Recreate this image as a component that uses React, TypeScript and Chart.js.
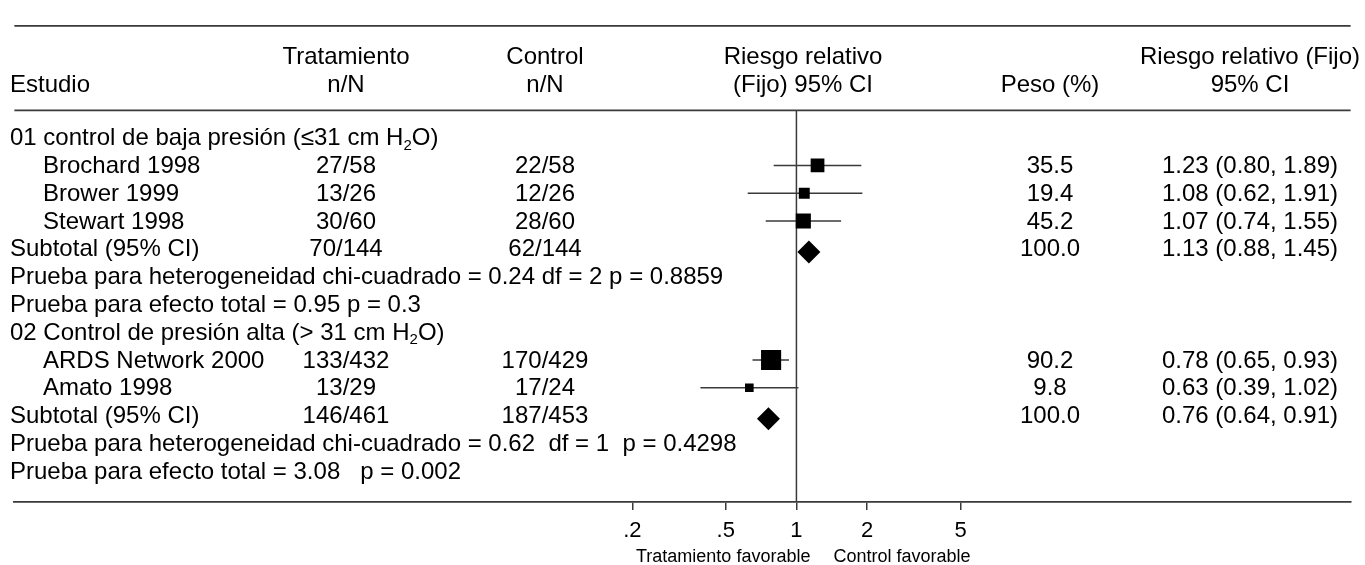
import React, { useEffect, useRef } from "react";
import { Chart, registerables } from "chart.js";

Chart.register(...registerables);

// ---------- data ----------
const groupTitles = [
  ["01 control de baja presión (≤31 cm H", "2", "O)"],
  ["02 Control de presión alta (> 31 cm H", "2", "O)"],
];
const studyNames = ["Brochard 1998", "Brower 1999", "Stewart 1998", "ARDS Network 2000", "Amato 1998"];
const studyGroup = [0, 0, 0, 1, 1];
const treatmentCounts = ["27/58", "13/26", "30/60", "133/432", "13/29"];
const controlCounts = ["22/58", "12/26", "28/60", "170/429", "17/24"];
const studyWeights = [35.5, 19.4, 45.2, 90.2, 9.8];
const studyRR = [1.23, 1.08, 1.07, 0.78, 0.63];
const studyLow = [0.8, 0.62, 0.74, 0.65, 0.39];
const studyHigh = [1.89, 1.91, 1.55, 0.93, 1.02];
const subtotalTreatment = ["70/144", "146/461"];
const subtotalControl = ["62/144", "187/453"];
const subtotalWeights = [100.0, 100.0];
const subtotalRR = [1.13, 0.76];
const subtotalLow = [0.88, 0.64];
const subtotalHigh = [1.45, 0.91];
const heterogeneityTexts = [
  "Prueba para heterogeneidad chi-cuadrado = 0.24 df = 2 p = 0.8859",
  "Prueba para heterogeneidad chi-cuadrado = 0.62  df = 1  p = 0.4298",
];
const overallEffectTexts = [
  "Prueba para efecto total = 0.95 p = 0.3",
  "Prueba para efecto total = 3.08   p = 0.002",
];
const xTickValues = [0.2, 0.5, 1, 2, 5];
const xTickLabels = [".2", ".5", "1", "2", "5"];
const headerLine1 = ["", "Tratamiento", "Control", "Riesgo relativo", "", "Riesgo relativo (Fijo)"];
const headerLine2 = ["Estudio", "n/N", "n/N", "(Fijo) 95% CI", "Peso (%)", "95% CI"];
const favourLabels = ["Tratamiento favorable", "Control favorable"];

// ---------- layout / style ----------
const W = 1365;
const H = 565;
const FONT = "'Liberation Sans', Arial, Helvetica, sans-serif";
const LEFT = 10;
const ONE_PX = 803;
const PX_PER_DECADE = 238;
const X_MIN = Math.pow(10, -(ONE_PX - LEFT) / PX_PER_DECADE);
const X_MAX = Math.pow(10, (W - ONE_PX) / PX_PER_DECADE);
const AXIS_H = 63;
const ROW_H = 28.6;
const FIRST_ROW_PX = 127;
const pxToRow = (px: number) => (px - FIRST_ROW_PX) / ROW_H;
const Y_MIN = pxToRow(0);
const Y_MAX = pxToRow(H - AXIS_H);
const TOP_LINE = pxToRow(12);
const HEAD1 = pxToRow(43);
const HEAD2 = pxToRow(72);
const HEADER_LINE = pxToRow(99);
const COL_X = [10, 346, 545, 803, 1050, 1250];
const INDENT_X = 43;
const LINE_COLOR = "#3a3a3a";

type Row = { kind: string; g: number; i: number };
const rows: Row[] = [];
const studyRow: number[] = [];
const subtotalRow: number[] = [];
groupTitles.forEach((_, g) => {
  rows.push({ kind: "group", g, i: -1 });
  studyNames.forEach((_, i) => {
    if (studyGroup[i] === g) {
      studyRow[i] = rows.length;
      rows.push({ kind: "study", g, i });
    }
  });
  subtotalRow[g] = rows.length;
  rows.push({ kind: "subtotal", g, i: -1 });
  rows.push({ kind: "het", g, i: -1 });
  rows.push({ kind: "effect", g, i: -1 });
});

const fmtCI = (m: number, l: number, h: number) => `${m.toFixed(2)} (${l.toFixed(2)}, ${h.toFixed(2)})`;

const tablePlugin = {
  id: "forestTable",
  afterDraw(chart: any) {
    const ctx = chart.ctx as CanvasRenderingContext2D;
    const ys = chart.scales.y;
    const xs = chart.scales.x;
    ctx.save();
    ctx.fillStyle = "#000";
    ctx.textBaseline = "middle";
    const put = (s: string, px: number, py: number, align: CanvasTextAlign, size = 24) => {
      ctx.font = `${size}px ${FONT}`;
      ctx.textAlign = align;
      ctx.fillText(s, px, py);
    };
    const alignOf = (c: number): CanvasTextAlign => (c === 0 ? "left" : "center");
    headerLine1.forEach((s, c) => s && put(s, COL_X[c], ys.getPixelForValue(HEAD1) + 1, alignOf(c)));
    headerLine2.forEach((s, c) => s && put(s, COL_X[c], ys.getPixelForValue(HEAD2) + 1, alignOf(c)));

    rows.forEach((r, idx) => {
      const py = ys.getPixelForValue(idx) + 1;
      if (r.kind === "group") {
        const [a, sub, b] = groupTitles[r.g];
        put(a, LEFT, py, "left");
        ctx.font = `24px ${FONT}`;
        const wa = ctx.measureText(a).width;
        put(sub, LEFT + wa, py + 7, "left", 15);
        ctx.font = `15px ${FONT}`;
        const ws = ctx.measureText(sub).width;
        put(b, LEFT + wa + ws, py, "left");
      } else if (r.kind === "study") {
        const i = r.i;
        put(studyNames[i], INDENT_X, py, "left");
        put(treatmentCounts[i], COL_X[1], py, "center");
        put(controlCounts[i], COL_X[2], py, "center");
        put(studyWeights[i].toFixed(1), COL_X[4], py, "center");
        put(fmtCI(studyRR[i], studyLow[i], studyHigh[i]), COL_X[5], py, "center");
      } else if (r.kind === "subtotal") {
        const g = r.g;
        put("Subtotal (95% CI)", LEFT, py, "left");
        put(subtotalTreatment[g], COL_X[1], py, "center");
        put(subtotalControl[g], COL_X[2], py, "center");
        put(subtotalWeights[g].toFixed(1), COL_X[4], py, "center");
        put(fmtCI(subtotalRR[g], subtotalLow[g], subtotalHigh[g]), COL_X[5], py, "center");
      } else if (r.kind === "het") {
        put(heterogeneityTexts[r.g], LEFT, py, "left");
      } else {
        put(overallEffectTexts[r.g], LEFT, py, "left");
      }
    });

    const onePx = xs.getPixelForValue(1);
    put(favourLabels[0], onePx + 14, 557, "right", 18);
    put(favourLabels[1], onePx + 37, 557, "left", 18);
    ctx.restore();
  },
};

export default function App() {
  const ref = useRef<HTMLCanvasElement | null>(null);
  useEffect(() => {
    if (!ref.current) return;
    const lineDs = (data: { x: number; y: number }[], width = 1.5) => ({
      type: "line" as const,
      data,
      borderColor: LINE_COLOR,
      borderWidth: width,
      pointRadius: 0,
      fill: false,
      tension: 0,
    });
    const datasets: any[] = [
      {
        type: "scatter",
        data: subtotalRR.map((v, g) => ({ x: v, y: subtotalRow[g] + 0.12 })),
        pointStyle: "rectRot",
        pointRadius: 11.5,
        backgroundColor: "#000",
        borderColor: "#000",
        borderWidth: 0,
      },
      {
        type: "scatter",
        data: studyRR.map((v, i) => ({ x: v, y: studyRow[i] })),
        pointStyle: "rect",
        pointRadius: studyWeights.map((w) => (3 + 1.8 * Math.sqrt(w)) / Math.SQRT2),
        backgroundColor: "#000",
        borderColor: "#000",
        borderWidth: 0,
      },
      ...studyRR.map((_, i) =>
        lineDs([
          { x: studyLow[i], y: studyRow[i] },
          { x: studyHigh[i], y: studyRow[i] },
        ])
      ),
      lineDs([
        { x: 1, y: HEADER_LINE },
        { x: 1, y: Y_MAX },
      ]),
      lineDs([
        { x: X_MIN, y: TOP_LINE },
        { x: X_MAX, y: TOP_LINE },
      ], 1.8),
      lineDs([
        { x: X_MIN, y: HEADER_LINE },
        { x: X_MAX, y: HEADER_LINE },
      ], 1.8),
    ];

    const chart = new Chart(ref.current, {
      type: "scatter",
      data: { datasets },
      options: {
        animation: false,
        responsive: false,
        devicePixelRatio: 1,
        layout: { padding: { left: LEFT, right: 0, top: 0, bottom: 0 } },
        plugins: { legend: { display: false }, tooltip: { enabled: false } },
        scales: {
          x: {
            type: "logarithmic",
            position: "bottom",
            min: X_MIN,
            max: X_MAX,
            afterBuildTicks: (scale: any) => {
              scale.ticks = xTickValues.map((v) => ({ value: v }));
            },
            afterFit: (scale: any) => {
              scale.height = AXIS_H;
            },
            ticks: {
              autoSkip: false,
              maxRotation: 0,
              padding: 8,
              color: "#000",
              font: { family: FONT, size: 22 },
              callback: (v: any) => {
                const k = xTickValues.indexOf(Number(v));
                return k >= 0 ? xTickLabels[k] : "";
              },
            },
            grid: {
              drawOnChartArea: false,
              drawTicks: true,
              tickLength: 8,
              color: LINE_COLOR,
              tickColor: LINE_COLOR,
              lineWidth: 1.5,
            },
            border: { display: true, color: LINE_COLOR, width: 1.8 },
          },
          y: {
            type: "linear",
            display: false,
            reverse: true,
            min: Y_MIN,
            max: Y_MAX,
          },
        },
      } as any,
      plugins: [tablePlugin],
    });
    return () => chart.destroy();
  }, []);

  return (
    <div style={{ position: "absolute", left: 0, top: 0, width: W, height: H, background: "#fff" }}>
      <canvas ref={ref} width={W} height={H} style={{ display: "block" }} />
    </div>
  );
}
